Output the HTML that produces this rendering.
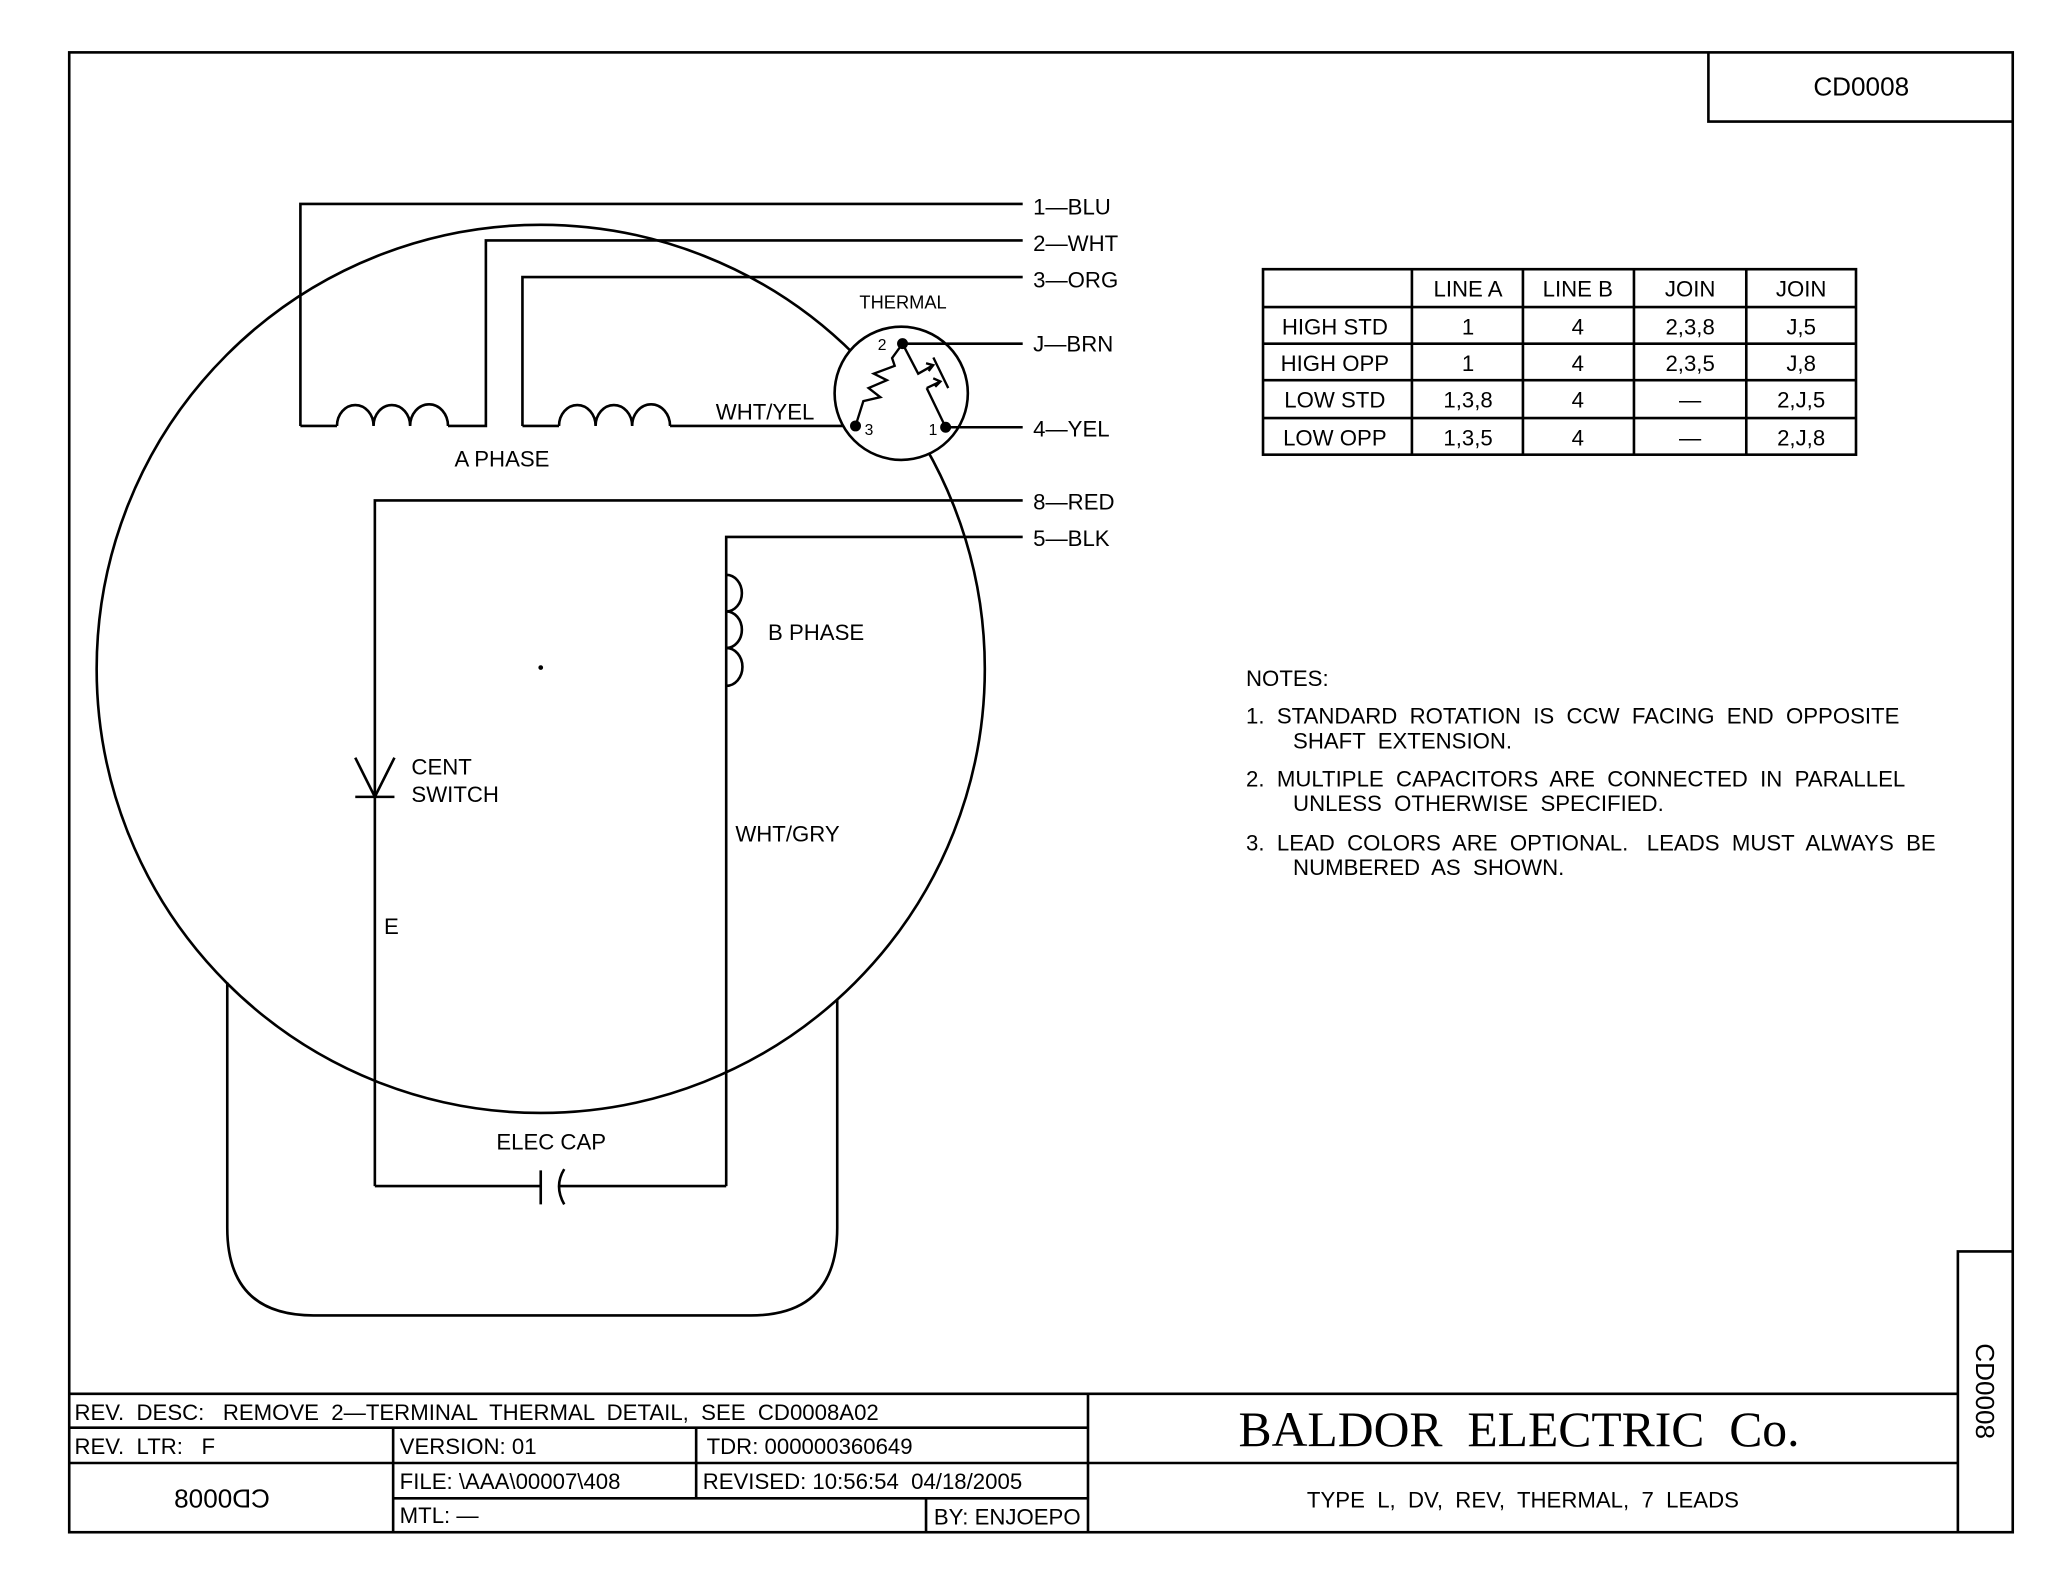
<!DOCTYPE html>
<html><head><style>html,body{margin:0;padding:0;background:#fff}svg{display:block}</style></head>
<body>
<svg width="2048" height="1582" viewBox="0 0 1568 1211" xmlns="http://www.w3.org/2000/svg" font-family="Liberation Sans, sans-serif" fill="none" stroke="#000" stroke-width="2">
<rect x="0" y="0" width="1568" height="1211" fill="#fff" stroke="none"/>
<rect x="53" y="40" width="1488" height="1133"/>
<path d="M1308 40 V93 H1541"/>
<path d="M1499 1173 V958 H1541"/>
<path d="M53 1067 H1499 M53 1093 H833 M53 1120 H1499 M301 1147 H833 M833 1067 V1173 M301 1093 V1173 M533 1093 V1147 M709 1147 V1173"/>
<circle cx="414" cy="512" r="340"/>
<circle cx="414" cy="511" r="0.8" fill="#000"/>
<path d="M174 752 V940 Q174 1007 240 1007 H575 Q641 1007 641 940 V765"/>
<path d="M230 326 V156 H783"/>
<path d="M230 326 H258 M343 326 H372 V184 H783"/>
<path d="M400 326 V212 H783"/>
<path d="M400 326 H428 M513 326 H655"/>
<path d="M258 326 a14 16 0 0 1 28 0 a14 16 0 0 1 28 0 a14 16 0 0 1 29 0"/>
<path d="M428 326 a14 16 0 0 1 28 0 a14 16 0 0 1 28 0 a14 16 0 0 1 29 0"/>
<!-- thermal -->
<circle cx="690" cy="301" r="51" fill="#fff"/>
<path d="M691 263 H783 M724 327 H783"/>
<circle cx="691" cy="263" r="3.2" fill="#000"/>
<circle cx="655" cy="326" r="3.2" fill="#000"/>
<circle cx="724" cy="327" r="3.2" fill="#000"/>
<path d="M655 326 L661 307 L674 304 L665 297 L679 291 L669 286 L685 280 L683 274 L691 263" stroke-width="1.8"/>
<path d="M691 263 L703 286 L714.5 279.5 M709 278 L714.5 279.5 L711 284 M714.6 273.6 L726 297 M709.5 297 L720 292 M714.5 289.5 L720 292 L716 296 M709.5 297 L724 327" stroke-width="1.8"/>
<path d="M287 908 V383 H783"/>
<path d="M556 908 V411 H783"/>
<path d="M556 440 a12 14 0 0 1 0 28 a12 14 0 0 1 0 28 a12 14 0 0 1 0 29"/>
<path d="M272 580 L287 610 L302 580 M272 610 H302"/>
<path d="M287 908 H414 M414 896 V922 M432 895 Q424 908 432 922 M428 908 H556"/>
<rect x="967" y="206" width="454" height="142"/>
<path d="M967 235 H1421 M967 263 H1421 M967 291 H1421 M967 320 H1421 M1081 206 V348 M1166 206 V348 M1251 206 V348 M1337 206 V348"/>
<g fill="#000" stroke="none" font-size="17">
<text x="1425" y="73" text-anchor="middle" font-size="20">CD0008</text>
<text x="791" y="164">1—BLU</text>
<text x="791" y="192">2—WHT</text>
<text x="791" y="220">3—ORG</text>
<text x="791" y="269">J—BRN</text>
<text x="791" y="334">4—YEL</text>
<text x="791" y="390">8—RED</text>
<text x="791" y="418">5—BLK</text>
<text x="658" y="236" font-size="14">THERMAL</text>
<text x="672" y="268" font-size="12">2</text>
<text x="662" y="333" font-size="12">3</text>
<text x="711" y="333" font-size="12">1</text>
<text x="548" y="321">WHT/YEL</text>
<text x="348" y="357">A  PHASE</text>
<text x="588" y="490">B  PHASE</text>
<text x="315" y="593">CENT</text>
<text x="315" y="614">SWITCH</text>
<text x="563" y="644">WHT/GRY</text>
<text x="294" y="715">E</text>
<text x="380" y="880">ELEC  CAP</text>
<g text-anchor="middle">
<text x="1124" y="227">LINE  A</text><text x="1208" y="227">LINE  B</text><text x="1294" y="227">JOIN</text><text x="1379" y="227">JOIN</text>
<text x="1022" y="256">HIGH  STD</text><text x="1124" y="256">1</text><text x="1208" y="256">4</text><text x="1294" y="256">2,3,8</text><text x="1379" y="256">J,5</text>
<text x="1022" y="284">HIGH  OPP</text><text x="1124" y="284">1</text><text x="1208" y="284">4</text><text x="1294" y="284">2,3,5</text><text x="1379" y="284">J,8</text>
<text x="1022" y="312">LOW  STD</text><text x="1124" y="312">1,3,8</text><text x="1208" y="312">4</text><text x="1294" y="312">—</text><text x="1379" y="312">2,J,5</text>
<text x="1022" y="341">LOW  OPP</text><text x="1124" y="341">1,3,5</text><text x="1208" y="341">4</text><text x="1294" y="341">—</text><text x="1379" y="341">2,J,8</text>
</g>
<text x="954" y="525">NOTES:</text>
<text x="954" y="554" xml:space="preserve">1.  STANDARD  ROTATION  IS  CCW  FACING  END  OPPOSITE</text>
<text x="990" y="573" xml:space="preserve">SHAFT  EXTENSION.</text>
<text x="954" y="602" xml:space="preserve">2.  MULTIPLE  CAPACITORS  ARE  CONNECTED  IN  PARALLEL</text>
<text x="990" y="621" xml:space="preserve">UNLESS  OTHERWISE  SPECIFIED.</text>
<text x="954" y="651" xml:space="preserve">3.  LEAD  COLORS  ARE  OPTIONAL.   LEADS  MUST  ALWAYS  BE</text>
<text x="990" y="670" xml:space="preserve">NUMBERED  AS  SHOWN.</text>
<text x="57" y="1087" xml:space="preserve">REV.  DESC:   REMOVE  2—TERMINAL  THERMAL  DETAIL,  SEE  CD0008A02</text>
<text x="57" y="1113" xml:space="preserve">REV.  LTR:   F</text>
<text x="306" y="1113">VERSION: 01</text>
<text x="541" y="1113">TDR: 000000360649</text>
<text x="306" y="1140">FILE: \AAA\00007\408</text>
<text x="538" y="1140" xml:space="preserve">REVISED: 10:56:54  04/18/2005</text>
<text x="306" y="1166">MTL: —</text>
<text x="715" y="1167">BY: ENJOEPO</text>
<text transform="translate(170 1154) scale(-1 1)" text-anchor="middle" font-size="20">CD0008</text>
<text x="1163" y="1107" text-anchor="middle" font-family="Liberation Serif, serif" font-size="38" xml:space="preserve">BALDOR  ELECTRIC  Co.</text>
<text x="1166" y="1154" text-anchor="middle" xml:space="preserve">TYPE  L,  DV,  REV,  THERMAL,  7  LEADS</text>
<text transform="translate(1513 1065) rotate(90)" text-anchor="middle" font-size="20">CD0008</text>
</g>
</svg>
</body></html>
